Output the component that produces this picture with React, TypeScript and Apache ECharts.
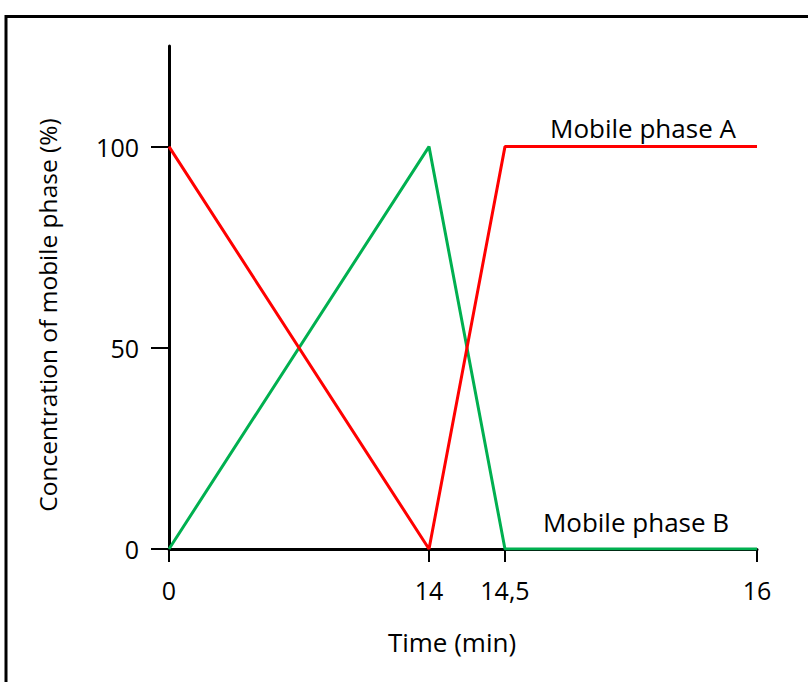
import React, { useEffect, useRef } from "react";
import * as echarts from "echarts";

// Time points (min) and their labels
const timeLabels = ["0", "14", "14,5", "16"];
// Visual position of each time point on the (non-proportional) schematic time axis
const axisPos = [0, 14, 18.09, 31.66];
// Concentrations (%)
const phaseA = [100, 0, 100, 100];
const phaseB = [0, 100, 0, 0];
const yTicks = [0, 50, 100];

const FONT = "Open Sans";

export default function App() {
  const ref = useRef<HTMLDivElement>(null);
  useEffect(() => {
    document.body.style.margin = "0";
    const chart = echarts.init(ref.current!, null, { renderer: "svg" });
    const label = (v: number) => {
      const i = axisPos.findIndex((p) => Math.abs(p - v) < 1e-6);
      return i >= 0 ? timeLabels[i] : "";
    };
    chart.setOption({
      animation: false,
      backgroundColor: "#ffffff",
      grid: { left: 169, right: 51, top: 46, bottom: 133 },
      xAxis: {
        type: "value",
        min: 0,
        max: axisPos[axisPos.length - 1],
        axisLine: { show: true, onZero: false, lineStyle: { color: "#000", width: 3 } },
        axisTick: { show: true, customValues: axisPos, length: 13, lineStyle: { color: "#000", width: 2 } },
        axisLabel: {
          customValues: axisPos,
          formatter: label,
          color: "#000",
          fontFamily: FONT,
          fontSize: 25,
          margin: 28,
        },
        splitLine: { show: false },
      },
      yAxis: {
        type: "value",
        min: 0,
        max: 125,
        axisLine: { show: true, lineStyle: { color: "#000", width: 3 } },
        axisTick: { show: true, customValues: yTicks, length: 18, lineStyle: { color: "#000", width: 2 } },
        axisLabel: {
          customValues: yTicks,
          color: "#000",
          fontFamily: FONT,
          fontSize: 25,
          margin: 30,
        },
        splitLine: { show: false },
      },
      series: [
        {
          name: "Mobile phase B",
          type: "line",
          data: axisPos.map((x, i) => [x, phaseB[i]]),
          symbol: "none",
          lineStyle: { color: "#00b050", width: 3 },
          z: 3,
        },
        {
          name: "Mobile phase A",
          type: "line",
          data: axisPos.map((x, i) => [x, phaseA[i]]),
          symbol: "none",
          lineStyle: { color: "#ff0000", width: 3 },
          z: 4,
        },
      ],
      graphic: [
        {
          type: "rect",
          shape: { x: 6, y: 16.5, width: 900, height: 800 },
          style: { fill: "none", stroke: "#000", lineWidth: 3 },
          silent: true,
        },
        {
          type: "text",
          x: 643,
          y: 128,
          style: { text: "Mobile phase A", fill: "#000", font: `26px "${FONT}"`, align: "center", verticalAlign: "middle" },
        },
        {
          type: "text",
          x: 636,
          y: 522,
          style: { text: "Mobile phase B", fill: "#000", font: `26px "${FONT}"`, align: "center", verticalAlign: "middle" },
        },
        {
          type: "text",
          x: 452,
          y: 642,
          style: { text: "Time (min)", fill: "#000", font: `26px "${FONT}"`, align: "center", verticalAlign: "middle" },
        },
        {
          type: "text",
          x: 47,
          y: 315,
          rotation: Math.PI / 2,
          style: {
            text: "Concentration of mobile phase (%)",
            fill: "#000",
            font: `24.5px "${FONT}"`,
            align: "center",
            verticalAlign: "middle",
          },
        },
      ],
    });
    return () => chart.dispose();
  }, []);
  return <div ref={ref} style={{ width: 808, height: 682 }} />;
}
